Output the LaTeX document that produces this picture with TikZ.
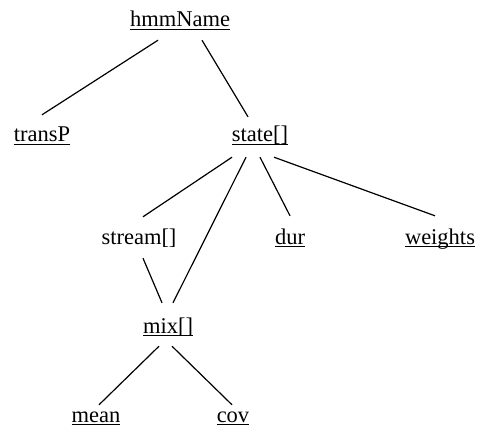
\documentclass[tikz,border=0pt]{standalone}
\usepackage{fontspec}
\setmainfont{Liberation Serif}
\usepackage{tikz}
\usetikzlibrary{positioning, calc}

% underlined field name
\newcommand{\ulfield}[1]{\setbox0=\hbox{#1}\rlap{\rule[-3pt]{\wd0}{1.1pt}}\box0}

\tikzset{
    field/.style={anchor=base, inner xsep=0pt, inner ysep=10pt,
        text height=17pt, text depth=5pt,
        font=\fontsize{22.5}{27}\selectfont},
    link/.style={line width=1.2pt}
}

\begin{document}
\begin{tikzpicture}[x=1pt, y=-1pt]

    \useasboundingbox (0,0) rectangle (477,428);

    % ==================== FIELDS ====================
    % Root
    \node [field] (hmm) at (180, 27) {\ulfield{hmmName}};

    % Level 1
    \node [field] (transP) at (42, 142) {\ulfield{transP}};
    \node [field] (state) at (260, 142) {\ulfield{state[]}};

    % Level 2
    \node [field] (stream) at (139, 244) {stream[]};
    \node [field] (dur) at (290, 244) {\ulfield{dur}};
    \node [field] (weights) at (440, 244) {\ulfield{weights}};

    % Level 3
    \node [field] (mix) at (168, 333) {\ulfield{mix[]}};

    % Level 4
    \node [field] (mean) at (96, 422) {\ulfield{mean}};
    \node [field] (cov) at (233, 422) {\ulfield{cov}};


    % ==================== LINKS ====================
    % hmmName
    \draw [link] ([xshift=-22pt, yshift=2pt]hmm.south) -- (transP.north);
    \draw [link] ([xshift=22pt, yshift=2pt]hmm.south) -- ([xshift=-12pt, yshift=-2pt]state.north);

    % state[]
    \draw [link] ([xshift=-28pt]state.south) -- ([xshift=4pt]stream.north);
    \draw [link] ([xshift=-14pt]state.south) -- ([xshift=5pt, yshift=3pt]mix.north);
    \draw [link] (state.south) -- ([yshift=1pt]dur.north);
    \draw [link] ([xshift=14pt]state.south) -- ([xshift=-5pt, yshift=1pt]weights.north);

    % stream[]
    \draw [link] ([xshift=4pt, yshift=1pt]stream.south) -- ([xshift=-6pt, yshift=3pt]mix.north);

    % mix[]
    \draw [link] ([xshift=-9pt, yshift=2pt]mix.south) -- ([xshift=3pt, yshift=-10pt]mean.north);
    \draw [link] ([xshift=4pt, yshift=2pt]mix.south) -- ([xshift=-1pt, yshift=-10pt]cov.north);

\end{tikzpicture}
\end{document}
